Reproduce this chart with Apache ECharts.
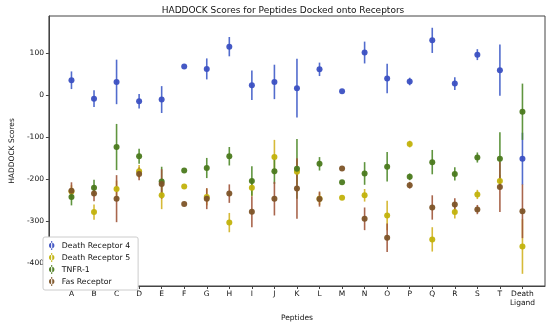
<!DOCTYPE html>
<html>
<head>
<meta charset="utf-8">
<script src="https://cdn.jsdelivr.net/npm/echarts@6/dist/echarts.min.js"></script>
<style>html,body{margin:0;padding:0;background:#fff}#c{width:550px;height:327px}</style>
</head>
<body>
<div id="c"></div>
<script>
const categories = ['A','B','C','D','E','F','G','H','I','J','K','L','M','N','O','P','Q','R','S','T','Death\nLigand'];
const yTicks = [-400,-300,-200,-100,0,100];

const dr4    = [35,-9,31,-15,-11,68,62,115,23,31,16,61,9,101,39,32,130,27,96,59,-152];
const dr4Err = [21,20,53,17,32,0,25,23,35,41,70,16,0,26,35,9,30,15,13,61,62];

const dr5    = [-230,-279,-224,-182,-239,-218,-243,-304,-221,-148,-183,-247,-245,-239,-287,-117,-344,-279,-237,-205,-361];
const dr5Err = [15,18,20,15,33,0,20,23,20,41,30,15,0,15,35,8,29,15,11,15,65];

const tnfr    = [-243,-221,-124,-146,-206,-180,-174,-146,-205,-182,-176,-164,-208,-187,-171,-195,-160,-188,-149,-152,-40];
const tnfrErr = [20,19,55,18,35,0,24,22,35,30,71,16,0,27,35,8,29,16,12,63,67];

const fas    = [-228,-235,-247,-188,-212,-260,-247,-235,-278,-247,-223,-248,-175,-295,-340,-215,-268,-261,-273,-219,-277];
const fasErr = [20,18,56,15,35,0,25,22,37,40,72,18,0,27,34,8,29,15,11,60,64];

const groups = [
  {name:'Death Receptor 4', vals:dr4, errs:dr4Err, color:'#3b50c2', bar:'#3f5cc8'},
  {name:'Death Receptor 5', vals:dr5, errs:dr5Err, color:'#c2b20c', bar:'#d2b222'},
  {name:'TNFR-1', vals:tnfr, errs:tnfrErr, color:'#4b7a1e', bar:'#4f8a2a'},
  {name:'Fas Receptor', vals:fas, errs:fasErr, color:'#7d5428', bar:'#a0553a'}
];

const series = [];
groups.forEach(g => {
  series.push({
    type:'custom',
    name:g.name + ' err',
    data:g.vals.map((v,i)=>[i,v,g.errs[i]]),
    encode:{x:0,y:1},
    silent:true,
    renderItem:function(params, api){
      const x = api.value(0), y = api.value(1), e = api.value(2);
      const p1 = api.coord([x, y - e]);
      const p2 = api.coord([x, y + e]);
      return {type:'line', shape:{x1:p1[0],y1:p1[1],x2:p2[0],y2:p2[1]},
              style:{stroke:g.bar, lineWidth:1.6, opacity:0.9}};
    }
  });
  series.push({
    type:'scatter',
    name:g.name,
    data:g.vals.map((v,i)=>[i,v]),
    symbol:'circle',
    symbolSize:6,
    itemStyle:{color:g.color, opacity:0.95}
  });
});

const chart = echarts.init(document.getElementById('c'), null, {renderer:'canvas'});
const font = 'DejaVu Sans';
chart.setOption({
  animation:false,
  backgroundColor:'#fff',
  textStyle:{fontFamily:font},
  title:{text:'HADDOCK Scores for Peptides Docked onto Receptors', left:278, textAlign:'center', top:1,
         textStyle:{fontFamily:font, fontSize:9, fontWeight:'normal', color:'#111'}},
  grid:{left:40, right:5, top:16, bottom:37, show:true, borderColor:'#444', borderWidth:1},
  legend:{
    left:43, top:237, orient:'vertical', itemGap:3, itemWidth:10, itemHeight:9,
    padding:[4,8,4,6], backgroundColor:'#fff', borderColor:'#ccc', borderWidth:1, borderRadius:2,
    icon:'path://M4.4,0h1.2v10h-1.2z M5,2a3,3 0 1,0 0.01,0z',
    textStyle:{fontFamily:font, fontSize:7.8, color:'#111'},
    data:groups.map(g=>g.name)
  },
  xAxis:{
    type:'value', min:-1, max:21,
    name:'Peptides', nameLocation:'middle', nameGap:28,
    nameTextStyle:{fontFamily:font, fontSize:7.5, color:'#111'},
    splitLine:{show:false},
    axisLine:{show:true, onZero:false, lineStyle:{color:'#444'}},
    axisTick:{show:true, length:3, customValues:categories.map((c,i)=>i), lineStyle:{color:'#444'}},
    axisLabel:{customValues:categories.map((c,i)=>i), formatter:v=>categories[v] || '',
               fontFamily:font, fontSize:7.5, color:'#111', margin:4, lineHeight:9}
  },
  yAxis:{
    type:'value', min:-455, max:188,
    name:'HADDOCK Scores', nameLocation:'middle', nameGap:29,
    nameTextStyle:{fontFamily:font, fontSize:7.5, color:'#111'},
    splitLine:{show:false},
    axisLine:{show:true, onZero:false, lineStyle:{color:'#444'}},
    axisTick:{show:true, length:3, customValues:yTicks, lineStyle:{color:'#444'}},
    axisLabel:{customValues:yTicks, fontFamily:font, fontSize:7.5, color:'#111', margin:5}
  },
  series:series
});
</script>
</body>
</html>
